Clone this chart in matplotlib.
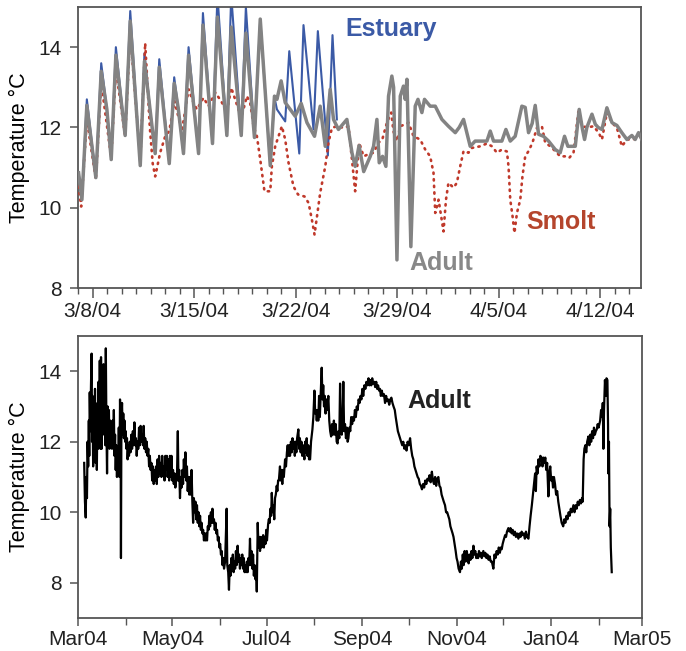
import numpy as np
import pandas as pd
import matplotlib
matplotlib.use("Agg")
import matplotlib.pyplot as plt
import matplotlib.dates as mdates

plt.rcParams['font.family'] = ['Liberation Sans', 'DejaVu Sans']

# ---------------- top panel data (days since 3/8/04, temperature degC) ----------------
est_days = [-0.96, -0.73, -0.39, 0.23, 0.60, 0.99, 1.29, 1.61, 2.25, 2.60, 3.29, 3.58, 3.98,
            4.32, 4.60, 5.29, 5.63, 5.90, 6.27, 6.62, 7.31, 7.61, 8.27, 8.61, 9.26, 9.56,
            10.25, 10.57, 11.16, 11.56, 12.25, 12.54, 12.71, 13.28, 13.56, 14.25, 14.54,
            15.23, 15.53, 16.22, 16.54, 16.84]
est_temp = [10.87, 10.20, 12.70, 10.75, 13.60, 12.45, 11.20, 14.00, 11.80, 14.90, 11.05, 13.85, 12.40,
            11.35, 13.70, 11.10, 13.25, 12.50, 11.35, 14.00, 11.35, 14.85, 11.60, 15.30, 11.80, 15.30,
            11.80, 15.00, 11.75, 14.70, 11.05, 12.75, 12.45, 12.15, 13.90, 11.35, 14.55,
            11.95, 14.40, 11.30, 14.30, 12.20]

adult_days = [-0.96, -0.73, -0.39, 0.23, 0.60, 0.99, 1.29, 1.61, 2.25, 2.60, 3.29, 3.58, 3.98,
              4.32, 4.60, 5.29, 5.63, 5.90, 6.27, 6.62, 7.31, 7.61, 8.27, 8.61, 9.26, 9.56,
              10.25, 10.57, 11.16, 11.56, 12.25, 12.54, 12.71, 13.00, 13.28, 13.97, 14.38,
              14.78, 15.30, 15.69, 16.04, 16.38, 16.61, 16.95, 17.53, 17.88, 18.10, 18.37,
              18.69, 19.14, 19.37, 19.60, 19.76, 19.99, 20.22, 20.40, 20.63, 20.75, 20.98,
              21.21, 21.43, 21.55, 21.67, 21.94, 22.24, 22.43, 22.70, 22.88, 23.27, 23.62,
              24.08, 24.53, 25.00, 25.27, 25.57, 26.03, 26.37, 26.84, 27.18, 27.41, 27.64,
              28.21, 28.49, 28.79, 29.13, 29.59, 29.82, 30.05, 30.30, 30.51, 30.74, 31.08,
              31.43, 31.89, 32.23, 32.53, 32.76, 33.27, 33.54, 33.77, 33.91, 34.07, 34.42,
              34.65, 34.85, 35.11, 35.45, 35.80, 36.14, 36.48, 36.83, 37.17, 37.40, 37.63, 37.86]
adult_temp = [10.87, 10.20, 12.55, 10.75, 13.40, 12.45, 11.20, 13.80, 11.80, 14.65, 11.05, 13.65, 12.40,
              11.35, 13.50, 11.10, 13.10, 12.50, 11.35, 13.80, 11.35, 14.55, 11.60, 14.75, 11.80, 14.50,
              11.80, 14.35, 11.75, 14.70, 11.05, 12.78, 12.70, 13.16, 12.62, 12.28, 12.60,
              12.12, 11.78, 12.53, 11.53, 12.95, 12.20, 11.95, 12.20, 11.37, 11.03, 11.55,
              10.90, 11.28, 11.53, 12.20, 11.12, 11.28, 11.03, 12.78, 13.28, 13.00, 8.70,
              12.78, 13.03, 12.70, 13.20, 9.03, 12.53, 12.70, 12.37, 12.70, 12.53, 12.53,
              12.20, 12.03, 11.87, 12.00, 12.20, 11.53, 11.66, 11.66, 11.66, 11.91, 11.66,
              11.66, 11.95, 11.66, 11.78, 12.53, 12.50, 11.87, 12.10, 12.55, 11.83, 11.78,
              11.66, 11.45, 11.37, 11.78, 11.53, 11.53, 12.45, 11.95, 11.70, 12.00, 12.33,
              12.08, 12.00, 11.95, 12.49, 12.12, 12.05, 11.87, 11.70, 11.80, 11.70, 11.87, 11.70]

smolt_days = [-0.96, -0.78, -0.39, 0.23, 0.60, 1.29, 1.61, 2.25, 2.60, 3.29, 3.63, 3.95, 4.15,
              4.32, 4.45, 4.66, 5.01, 5.29, 5.65, 6.16, 6.62, 6.96, 7.19, 7.65, 7.99, 8.47,
              8.92, 9.26, 9.56, 9.83, 10.25, 10.64, 10.87, 11.10, 11.33, 11.56, 11.85, 12.25,
              12.36, 12.59, 12.87, 13.05, 13.28, 13.51, 13.85, 14.16, 14.61, 14.89, 15.12,
              15.30, 15.47, 15.69, 16.04, 16.26, 16.50, 16.84, 17.30, 17.64, 17.88, 18.10,
              18.38, 18.68, 19.00, 19.37, 19.71, 19.97, 20.29, 20.59, 20.74, 20.98, 21.21,
              21.55, 21.78, 22.12, 22.58, 22.93, 23.27, 23.50, 23.62, 23.85, 24.03, 24.19,
              24.36, 24.53, 24.88, 25.11, 25.34, 25.57, 25.91, 26.15, 26.72, 27.18, 27.53,
              27.87, 28.21, 28.56, 28.67, 28.79, 28.95, 29.08, 29.25, 29.48, 29.63, 29.82,
              30.05, 30.32, 30.63, 30.97, 31.20, 31.55, 31.89, 32.23, 32.58, 32.85, 33.15,
              33.49, 33.77, 34.09, 34.53, 34.88, 35.11, 35.45, 35.80, 36.14, 36.48, 36.83,
              37.17, 37.52, 37.86]
smolt_temp = [10.53, 10.03, 12.20, 10.70, 13.12, 11.24, 13.45, 11.78, 14.37, 11.16, 14.10, 12.00, 11.10,
              10.78, 11.00, 11.37, 11.78, 11.91, 12.66, 11.91, 12.95, 12.62, 12.45, 12.74, 12.53, 12.87,
              12.62, 12.37, 12.99, 12.70, 12.24, 12.78, 12.60, 12.03, 11.78, 11.20, 10.41, 10.41,
              11.03, 11.53, 11.83, 12.03, 11.70, 11.12, 10.53, 10.33, 10.28, 10.12, 9.70,
              9.33, 9.78, 10.37, 11.03, 11.62, 11.99, 12.03, 11.99, 12.03, 11.20, 10.41,
              11.62, 11.28, 11.33, 11.37, 11.62, 11.70, 12.12, 12.37, 11.90, 11.66, 12.03,
              12.08, 12.12, 11.78, 11.70, 11.45, 11.28, 10.87, 9.87, 10.20, 9.78, 9.41,
              10.20, 10.62, 10.50, 10.62, 11.03, 11.41, 11.37, 11.49, 11.53, 11.60, 11.53,
              11.37, 11.45, 11.40, 11.03, 10.20, 9.78, 9.37, 9.87, 10.20, 10.78, 11.28,
              11.41, 11.62, 11.99, 12.03, 11.62, 11.53, 11.41, 11.28, 11.28, 11.24, 11.37,
              12.41, 12.03, 12.00, 12.03, 11.87, 11.70, 12.37, 12.12, 11.99, 11.53, 11.70,
              11.70, 11.72, 11.78]

top_tick_days = [0, 7, 14, 21, 28, 35]
top_tick_labels = ["3/8/04", "3/15/04", "3/22/04", "3/29/04", "4/5/04", "4/12/04"]

# ---------------- bottom panel data (days since 1 Mar 2004, temperature degC) ----------------
yr_days = [4.0, 4.5, 5.0, 5.4, 5.8, 6.2, 6.6, 7.0, 7.3, 7.6, 8.0, 8.4, 8.8, 9.1, 9.4, 9.8, 10.2, 10.6,
           11.0, 11.4, 11.8, 12.2, 12.6, 13.0, 13.3, 13.7, 14.1, 14.5, 14.9, 15.3, 15.7, 16.1, 16.5,
           16.9, 17.3, 17.7, 18.0, 18.4, 18.8, 19.2, 19.6, 20.0, 20.4, 20.8, 21.2, 21.6, 22.0, 22.4,
           22.8, 23.2, 23.6, 24.0, 24.4, 24.8, 25.2, 25.6, 26.0, 26.4, 26.8, 27.2, 27.6, 27.8, 28.1,
           28.5, 28.9, 29.3, 29.7, 30.1, 30.5, 30.9, 31.3, 31.7, 32.1, 32.6, 33.0, 33.5, 34.0, 34.5,
           35.0, 35.5, 36.0, 36.5, 37.0, 37.5, 38.0, 38.5, 39.0, 39.5, 40.0, 40.5, 41.0, 41.5, 42.0,
           42.5, 43.0, 43.5, 44.0, 44.5, 45.0, 45.5, 46.0, 46.5, 47.0, 47.5, 48.0, 48.5, 49.0, 49.5,
           50.0, 50.5, 51.0, 51.5, 52.0, 52.5, 53.0, 53.5, 54.0, 54.5, 55.0, 55.5, 56.0, 56.5, 57.0,
           57.5, 58.0, 58.5, 59.0, 59.5, 60.0, 60.5, 61.0, 61.5, 62.0, 62.5, 63.0, 63.5, 64.0, 64.6,
           65.0, 65.5, 66.0, 66.5, 67.0, 67.5, 68.0, 68.5, 69.0, 69.5, 70.0, 70.5, 71.0, 71.5, 72.0,
           72.5, 73.0, 73.5, 74.0, 74.5, 75.0, 75.5, 76.0, 76.5, 77.0, 77.5, 78.0, 78.5, 79.0, 79.5,
           80.0, 80.5, 81.0, 81.5, 82.0, 82.5, 83.0, 83.5, 84.0, 84.5, 85.0, 85.5, 86.0, 86.5, 87.0,
           87.5, 88.0, 88.5, 89.0, 89.5, 90.0, 90.5, 91.0, 91.5, 92.0, 92.5, 93.0, 93.5, 94.0, 94.5,
           95.2, 96.2, 96.6, 97.2, 97.7, 98.2, 98.7, 99.2, 99.7, 100.2, 100.7, 101.2, 101.7, 102.2,
           102.7, 103.3, 103.8, 104.3, 104.8, 105.3, 105.8, 106.3, 106.8, 107.3, 107.8, 108.3, 108.8,
           109.3, 109.8, 110.3, 110.8, 111.3, 111.8, 112.3, 112.8, 113.3, 113.8, 114.3, 114.8, 115.3,
           115.7, 116.3, 116.8, 117.3, 117.8, 118.3, 118.8, 119.3, 119.8, 120.3, 120.8, 121.3, 121.8,
           122.3, 123.0, 123.5, 124.0, 124.5, 125.0, 125.4, 126.0, 126.5, 127.0, 127.5, 128.0, 128.6,
           129.0, 129.5, 130.0, 130.7, 131.2, 131.7, 132.2, 132.7, 133.2, 134.0, 134.6, 135.2, 135.7,
           136.2, 136.7, 137.2, 137.8, 138.3, 138.8, 139.3, 139.8, 140.3, 140.8, 141.3, 141.8, 142.6,
           143.1, 143.6, 144.1, 144.6, 145.1, 145.6, 146.5, 147.0, 147.5, 148.0, 148.5, 149.0, 149.5,
           150.2, 150.8, 151.7, 152.3, 153.0, 153.5, 154.0, 154.5, 155.0, 155.5, 156.0, 156.5, 157.0,
           157.7, 158.2, 158.7, 159.2, 159.7, 160.2, 160.7, 161.2, 162.0, 162.6, 163.2, 163.8, 164.4,
           165.0, 165.6, 166.2, 166.8, 167.4, 168.0, 168.6, 169.1, 169.6, 170.1, 170.7, 171.2, 171.7,
           172.2, 172.8, 173.4, 174.0, 174.5, 175.0, 175.6, 176.2, 176.8, 177.4, 178.0, 178.6, 179.2,
           179.8, 180.4, 181.0, 181.6, 182.2, 182.8, 183.4, 184.0, 184.6, 185.3, 186.0, 186.6, 187.3,
           188.0, 188.6, 189.2, 189.8, 190.4, 191.0, 191.7, 192.3, 193.0, 193.6, 194.2, 194.8, 195.4,
           196.0, 196.6, 197.3, 198.0, 198.7, 199.4, 200.0, 200.7, 201.4, 202.1, 202.8, 203.5, 204.2,
           205.0, 205.6, 206.3, 207.0, 207.7, 208.4, 209.1, 209.8, 210.5, 211.2, 211.9, 212.6, 213.3,
           214.0, 214.9, 215.6, 216.3, 217.0, 217.7, 218.4, 219.1, 219.8, 220.5, 221.2, 221.9, 222.6,
           223.3, 224.0, 224.7, 225.4, 226.1, 226.8, 227.5, 228.2, 229.0, 229.7, 230.4, 231.1, 231.8,
           232.5, 233.2, 233.9, 234.6, 235.3, 236.0, 236.7, 237.5, 238.2, 238.9, 239.6, 240.3, 241.0,
           241.7, 242.4, 243.0, 243.7, 244.4, 245.0, 245.6, 246.3, 247.2, 247.8, 248.4, 249.0, 249.6,
           250.2, 250.8, 251.6, 252.2, 252.8, 253.4, 254.0, 254.6, 255.2, 255.9, 256.5, 257.1, 257.7,
           258.3, 258.9, 259.5, 260.1, 260.7, 261.3, 262.3, 263.0, 263.6, 264.3, 265.0, 265.7, 266.4,
           267.1, 267.8, 268.8, 269.5, 270.2, 270.9, 271.6, 272.3, 273.0, 273.6, 274.2, 274.8, 275.4,
           276.4, 277.0, 277.6, 278.5, 279.2, 279.9, 280.6, 281.3, 282.0, 282.7, 283.4, 284.1, 285.0,
           285.7, 286.4, 287.1, 287.8, 288.5, 289.2, 289.9, 290.6, 291.5, 292.2, 292.9, 293.7, 294.4,
           295.1, 295.8, 296.3, 296.8, 297.4, 298.0, 298.6, 299.2, 300.0, 300.6, 301.2, 301.8, 302.4,
           303.0, 303.6, 304.4, 305.0, 305.6, 306.2, 306.8, 307.4, 308.0, 308.7, 309.4, 310.1, 310.8,
           311.5, 312.2, 313.0, 314.0, 314.7, 315.4, 316.1, 316.8, 317.5, 318.2, 318.9, 319.6, 320.6,
           321.3, 322.0, 322.7, 323.4, 324.1, 324.8, 325.5, 326.2, 326.6, 327.2, 327.7, 328.3, 328.9,
           329.5, 330.3, 330.9, 331.5, 332.1, 332.7, 333.3, 333.9, 334.5, 335.1, 335.7, 336.3, 336.9,
           337.9, 338.5, 339.1, 339.6, 340.0, 340.4, 341.0, 341.6, 342.0, 342.6, 343.0, 343.2, 343.6,
           344.0, 344.4, 344.8, 345.4]
yr_temp = [11.4, 10.3, 9.85, 11.0, 10.4, 12.0, 11.3, 12.6, 11.6, 13.4, 12.3, 13.6, 14.5, 12.0, 13.3, 11.3, 13.0, 11.5,
           13.5, 11.4, 12.8, 11.2, 13.1, 11.8, 13.7, 12.0, 14.3, 11.8, 14.4, 11.8, 14.0, 12.2, 14.2,
           12.4, 13.6, 11.9, 14.65, 12.4, 11.1, 13.0, 12.0, 12.9, 11.8, 12.6, 12.0, 12.3, 11.8, 12.6,
           11.9, 12.9, 11.6, 12.2, 11.2, 11.9, 11.0, 11.8, 11.2, 12.4, 11.0, 13.2, 12.0, 8.7, 12.6,
           13.1, 12.2, 12.8, 12.1, 12.6, 12.0, 12.3, 11.8, 12.1, 11.5, 11.9, 11.6, 12.0, 11.7, 12.2,
           11.8, 12.3, 11.9, 12.55, 11.9, 12.1, 11.6, 12.0, 11.8, 12.4, 11.9, 12.45, 12.0, 12.2, 11.9,
           12.45, 11.8, 12.1, 11.7, 12.0, 11.6, 11.8, 11.3, 11.6, 11.2, 11.4, 10.9, 11.3, 10.8, 11.2,
           10.9, 11.3, 10.8, 11.5, 11.0, 11.6, 11.1, 11.4, 11.0, 11.6, 11.1, 11.3, 10.9, 11.6, 11.2,
           11.6, 11.0, 11.5, 10.9, 11.6, 11.0, 11.6, 10.9, 11.2, 10.8, 11.1, 10.7, 11.0, 10.9, 12.3,
           10.9, 11.2, 10.4, 11.0, 10.7, 11.2, 10.8, 11.5, 11.0, 11.7, 10.9, 11.3, 10.6, 11.0, 10.5,
           11.0, 10.5, 11.2, 10.3, 9.7, 10.4, 10.0, 10.3, 9.8, 10.2, 9.7, 10.0, 9.6, 9.9, 9.5,
           9.7, 9.4, 9.5, 9.2, 9.4, 9.2, 9.4, 9.2, 9.6, 9.5, 9.9, 9.6, 10.0, 9.7, 10.1,
           9.7, 9.8, 9.5, 9.7, 9.4, 9.5, 9.2, 9.3, 9.0, 9.1, 8.8, 8.9, 8.5, 8.7, 8.4,
           8.6, 10.1, 8.5, 8.3, 7.8, 8.5, 8.2, 8.7, 8.4, 8.8, 8.3, 8.6, 8.4, 8.9,
           8.5, 9.05, 8.6, 8.8, 8.4, 8.7, 8.5, 8.8, 8.4, 8.7, 8.3, 8.5, 8.3,
           8.6, 8.3, 8.7, 8.5, 9.25, 8.5, 8.9, 8.4, 8.8, 8.2, 8.5, 8.1, 8.4,
           7.75, 9.7, 9.0, 9.3, 8.9, 9.3, 9.0, 9.2, 9.35, 9.0, 9.3, 9.1, 9.5,
           9.2, 9.65, 9.8, 9.7, 10.1, 9.9, 10.55, 10.0, 10.2, 9.8, 10.4, 10.5, 10.75,
           10.6, 10.9, 10.9, 11.3, 10.9, 11.2, 10.8, 11.2, 11.0, 11.5, 11.3, 11.7, 11.9,
           11.6, 11.9, 11.6, 12.0, 11.7, 12.1, 11.8, 12.0, 11.6, 12.0, 11.7, 12.1, 12.35,
           11.8, 12.1, 11.7, 12.0, 11.6, 11.9, 11.5, 12.0, 11.7, 12.1, 11.6, 11.9, 11.5,
           11.5, 12.0, 12.35, 12.7, 13.45, 12.8, 12.9, 12.6, 12.9, 12.6, 13.3, 12.7, 13.3,
           14.1, 13.2, 13.6, 13.0, 13.3, 12.8, 13.2, 12.9, 13.3, 12.6, 12.3, 12.15, 12.5,
           12.2, 12.6, 12.2, 12.5, 12.0, 11.95, 12.3, 12.1, 13.65, 12.5, 12.2, 12.6, 13.7,
           12.3, 12.5, 12.1, 12.4, 12.0, 12.1, 12.4, 12.3, 12.7, 12.5, 12.7, 12.6, 12.9,
           12.7, 13.0, 12.9, 13.2, 13.1, 13.3, 13.2, 13.5, 13.3, 13.6, 13.5, 13.7, 13.6,
           13.8, 13.6, 13.75, 13.6, 13.8, 13.65, 13.7, 13.55, 13.7, 13.5, 13.6, 13.45, 13.5,
           13.3, 13.45, 13.3, 13.35, 13.1, 13.3, 13.15, 13.2, 13.05, 13.2, 13.25, 13.1, 13.0,
           12.9, 12.7, 12.5, 12.3, 12.2, 12.1, 12.0, 11.9, 12.0, 11.8, 11.9, 11.75, 12.0,
           11.9, 12.1, 11.8, 11.6, 11.5, 11.3, 11.2, 11.1, 11.0, 10.95, 10.8, 10.75, 10.65,
           10.8, 10.7, 10.9, 10.8, 10.95, 10.9, 11.05, 10.85, 11.15, 10.9, 10.8, 11.0, 10.75,
           10.95, 11.0, 10.75, 10.7, 10.5, 10.4, 10.3, 10.2, 10.0, 10.0, 9.9, 9.8, 9.6,
           9.5, 9.4, 9.3, 9.1, 8.9, 8.7, 8.6, 8.4, 8.3, 8.6, 8.4, 8.8, 8.5,
           8.9, 8.6, 8.9, 8.7, 8.55, 8.8, 8.65, 8.9, 8.7, 9.05, 8.8, 8.9, 8.7,
           8.8, 8.7, 8.9, 8.75, 8.85, 8.7, 8.9, 8.75, 8.85, 8.7, 8.8, 8.65, 8.75,
           8.6, 8.6, 8.4, 8.8, 8.7, 8.9, 8.8, 9.0, 8.85, 9.0, 8.95, 9.1, 9.2,
           9.35, 9.3, 9.45, 9.55, 9.45, 9.55, 9.4, 9.5, 9.35, 9.45, 9.3, 9.4, 9.25,
           9.4, 9.3, 9.45, 9.35, 9.4, 9.25, 9.45, 9.3, 9.25, 9.6, 9.9, 10.2, 10.5,
           10.8, 11.1, 10.6, 11.3, 11.1, 11.5, 11.3, 11.6, 11.55, 11.3, 11.55, 11.4, 11.55,
           11.2, 11.4, 10.45, 11.1, 11.3, 10.9, 11.0, 10.7, 11.0, 10.8, 10.5, 10.6, 10.3,
           10.1, 9.9, 9.7, 9.6, 9.8, 9.7, 9.9, 9.8, 10.0, 9.9, 10.1, 10.0, 10.2,
           10.0, 10.2, 10.1, 10.3, 10.2, 10.35, 10.25, 10.4, 10.3, 11.5, 11.8, 11.9, 11.7,
           12.0, 12.15, 11.9, 12.2, 12.0, 12.3, 12.1, 12.4, 12.2, 12.3, 12.35, 12.5, 12.4,
           12.6, 12.9, 12.7, 13.1, 11.8, 12.9, 13.75, 13.3, 13.8, 13.75, 12.5, 11.1, 12.0,
           9.6, 10.1, 9.0, 8.3]

bot_tick_labels = ["Mar04", "May04", "Jul04", "Sep04", "Nov04", "Jan04", "Mar05"]

# ---------------- figure ----------------
C_EST = '#3b5aa6'
C_ADULT = '#838383'
C_SMOLT = '#c0392b'
C_SPINE = '#555555'

fig = plt.figure(figsize=(6.86, 6.51), dpi=100)
ax1 = fig.add_axes([0.1137, 0.5576, 0.8207, 0.4316])
ax2 = fig.add_axes([0.1137, 0.0507, 0.8222, 0.4332])

base1 = pd.Timestamp('2004-03-08')
def to_dt(base, days):
    return base + pd.to_timedelta(np.asarray(days, dtype=float), unit='D')

ax1.plot(to_dt(base1, est_days), est_temp, color=C_EST, lw=1.5, solid_joinstyle='round', zorder=2)
ax1.plot(to_dt(base1, smolt_days), smolt_temp, color=C_SMOLT, lw=1.9,
         linestyle=(0, (0.5, 2.0)), dash_capstyle='round', zorder=3)
ax1.plot(to_dt(base1, adult_days), adult_temp, color=C_ADULT, lw=2.5, solid_joinstyle='round', zorder=4)

ax1.set_xlim(to_dt(base1, [-1.0])[0], to_dt(base1, [37.8])[0])
ax1.set_ylim(8, 15)
ax1.set_yticks([8, 10, 12, 14])
ax1.set_xticks(to_dt(base1, top_tick_days))
ax1.set_xticklabels(top_tick_labels)
ax1.xaxis.set_minor_locator(mdates.DayLocator())
ax1.set_ylabel("Temperature °C", fontsize=15.5)
ax1.yaxis.set_label_coords(-0.085, 0.5)

ax1.text(to_dt(base1, [20.6])[0], 14.46, "Estuary", color=C_EST, fontsize=18, fontweight='bold',
         ha='center', va='center')
ax1.text(to_dt(base1, [24.0])[0], 8.62, "Adult", color='#888888', fontsize=18, fontweight='bold',
         ha='center', va='center')
ax1.text(to_dt(base1, [32.3])[0], 9.65, "Smolt", color='#b5452c', fontsize=18, fontweight='bold',
         ha='center', va='center')

base2 = pd.Timestamp('2004-03-01')
ax2.plot(to_dt(base2, yr_days), yr_temp, color='black', lw=1.6, zorder=3)
ax2.set_xlim(pd.Timestamp('2004-03-01'), pd.Timestamp('2005-03-01'))
ax2.set_ylim(7, 15)
ax2.set_yticks([8, 10, 12, 14])
major2 = pd.date_range('2004-03-01', '2005-03-01', freq='2MS')
ax2.set_xticks(major2)
ax2.set_xticklabels(bot_tick_labels)
ax2.xaxis.set_minor_locator(mdates.MonthLocator())
ax2.set_ylabel("Temperature °C", fontsize=15.5)
ax2.yaxis.set_label_coords(-0.085, 0.5)
ax2.text(pd.Timestamp('2004-03-01') + pd.Timedelta(days=234), 13.15, "Adult", color='#222222',
         fontsize=18, fontweight='bold', ha='center', va='center')

for ax in (ax1, ax2):
    for s in ax.spines.values():
        s.set_color(C_SPINE)
        s.set_linewidth(1.3)
    ax.tick_params(axis='both', which='major', labelsize=15, color=C_SPINE, width=1.1,
                   length=6, direction='out', labelcolor='#222222')
    ax.tick_params(axis='x', which='minor', color=C_SPINE, width=1.0, length=4, direction='out')
    ax.tick_params(axis='y', which='major', pad=6)
    ax.tick_params(axis='x', which='major', pad=3)

ax1.tick_params(axis='x', which='major', length=7)
ax2.tick_params(axis='x', which='minor', length=5)

fig.savefig("out.png", dpi=100)
